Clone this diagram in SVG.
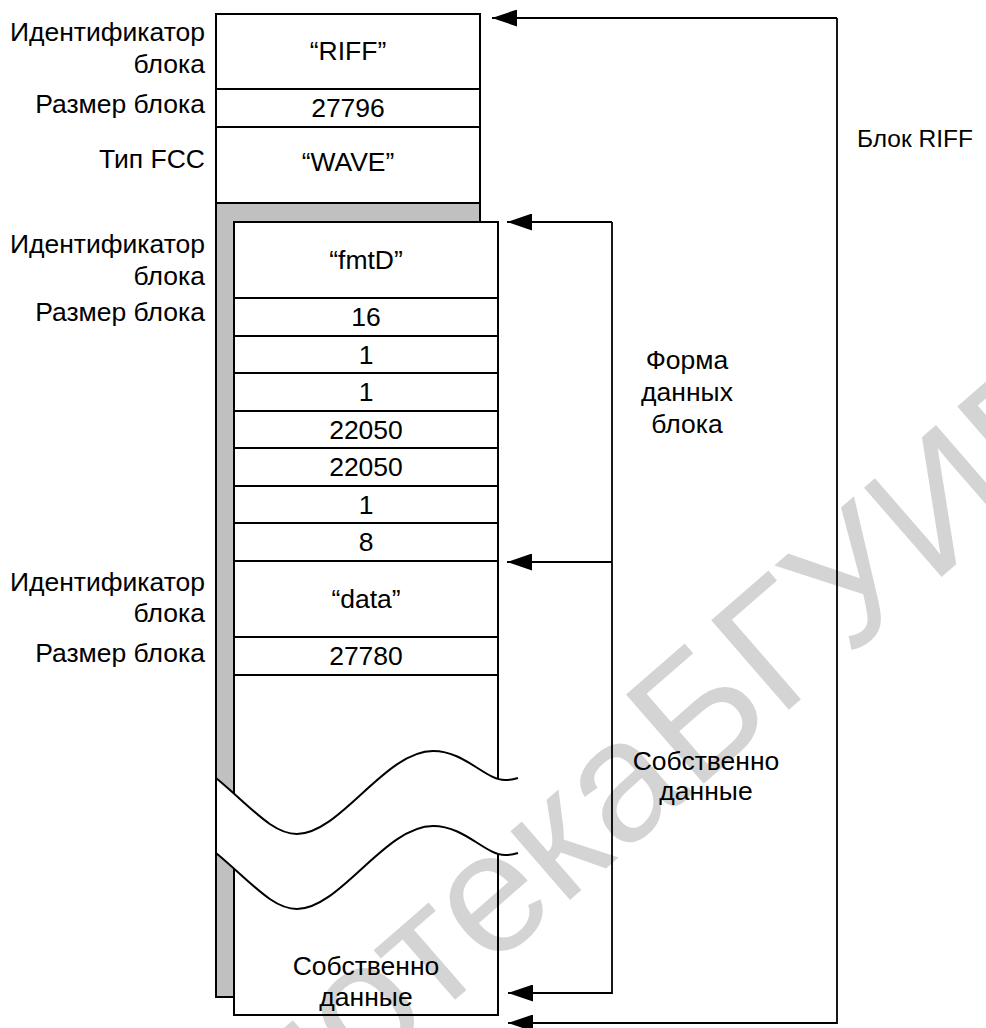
<svg xmlns="http://www.w3.org/2000/svg" width="986" height="1028" viewBox="0 0 986 1028">
<defs>
<style>
text{font-family:"Liberation Sans",Arial,sans-serif;font-size:26.5px;fill:#000}
.l{text-anchor:end}
.c{text-anchor:middle}
.box{fill:#fff;stroke:#000;stroke-width:2}
.div{stroke:#000;stroke-width:2;fill:none}
.con{stroke:#000;stroke-width:1.8;fill:none}
.wave{stroke:#000;stroke-width:2;fill:none}
.wm{font-size:172px;fill:#000;fill-opacity:0.17}
</style>
<marker id="ah" markerWidth="25" markerHeight="17" refX="25" refY="8.5" orient="auto" markerUnits="userSpaceOnUse">
<path d="M0,0 L25,8.5 L0,17 Z" fill="#000"/>
</marker>
</defs>
<rect width="986" height="1028" fill="#fff"/>

<g id="riff-block">
<rect class="box" x="216" y="14" width="264" height="189"/>
<line class="div" x1="216" y1="89" x2="480" y2="89"/>
<line class="div" x1="216" y1="127" x2="480" y2="127"/>
<text class="c" x="348" y="60">“RIFF”</text>
<text class="c" x="348" y="117">27796</text>
<text class="c" x="348" y="171">“WAVE”</text>
</g>

<g id="riff-labels">
<text class="l" x="205" y="41">Идентификатор</text>
<text class="l" x="205" y="73">блока</text>
<text class="l" x="205" y="113">Размер блока</text>
<text class="l" x="205" y="168">Тип FCC</text>
</g>

<g id="shadow-panel">
<rect x="216" y="203" width="264" height="794" fill="#c0c0c0" stroke="#000" stroke-width="2"/>
</g>

<g id="fmt-data-block">
<rect class="box" x="234" y="222" width="264" height="793"/>
<line class="div" x1="234" y1="298" x2="498" y2="298"/>
<line class="div" x1="234" y1="336" x2="498" y2="336"/>
<line class="div" x1="234" y1="373" x2="498" y2="373"/>
<line class="div" x1="234" y1="411" x2="498" y2="411"/>
<line class="div" x1="234" y1="448" x2="498" y2="448"/>
<line class="div" x1="234" y1="486" x2="498" y2="486"/>
<line class="div" x1="234" y1="523" x2="498" y2="523"/>
<line class="div" x1="234" y1="561" x2="498" y2="561"/>
<line class="div" x1="234" y1="637" x2="498" y2="637"/>
<line class="div" x1="234" y1="675" x2="498" y2="675"/>
<text class="c" x="366" y="269">“fmtD”</text>
<text class="c" x="366" y="326">16</text>
<text class="c" x="366" y="364">1</text>
<text class="c" x="366" y="401">1</text>
<text class="c" x="366" y="439">22050</text>
<text class="c" x="366" y="476">22050</text>
<text class="c" x="366" y="514">1</text>
<text class="c" x="366" y="551">8</text>
<text class="c" x="366" y="608">“data”</text>
<text class="c" x="366" y="665">27780</text>
<text class="c" x="366" y="975">Собственно</text>
<text class="c" x="366" y="1006">данные</text>
</g>

<g id="break">
<path d="M217,778 C250,806 272,834 297,834 C340,834 385,751 433,751 C465,751 485,780 505,780 C510,780 515,779 520,778 L520,853 C515,854 510,855 505,855 C485,855 465,826 433,826 C385,826 340,909 297,909 C272,909 250,881 217,853 Z" fill="#fff"/>
<path class="wave" d="M216,778 C250,806 272,834 297,834 C340,834 385,751 433,751 C465,751 485,780 505,780 C510,780 515,779 518,778"/>
<path class="wave" d="M216,853 C250,881 272,909 297,909 C340,909 385,826 433,826 C465,826 485,855 505,855 C510,855 515,854 518,853"/>
<line class="div" x1="216" y1="776" x2="216" y2="855"/>
</g>

<g id="inner-labels">
<text class="l" x="205" y="253">Идентификатор</text>
<text class="l" x="205" y="285">блока</text>
<text class="l" x="205" y="321">Размер блока</text>
<text class="l" x="205" y="591">Идентификатор</text>
<text class="l" x="205" y="622">блока</text>
<text class="l" x="205" y="662">Размер блока</text>
</g>

<g id="connectors">
<path class="con" d="M837,18 L492,18" marker-end="url(#ah)"/>
<path class="con" d="M837,18 L837,1023 L508,1023" marker-end="url(#ah)"/>
<path class="con" d="M612,222 L507,222" marker-end="url(#ah)"/>
<path class="con" d="M612,562 L507,562" marker-end="url(#ah)"/>
<path class="con" d="M612,222 L612,993 L508,993" marker-end="url(#ah)"/>
</g>

<g id="bracket-labels">
<text x="857" y="147" style="font-size:24.5px">Блок RIFF</text>
<text class="c" x="687" y="369">Форма</text>
<text class="c" x="687" y="401">данных</text>
<text class="c" x="687" y="433">блока</text>
<text class="c" x="706" y="770">Собственно</text>
<text class="c" x="706" y="800">данные</text>
</g>

<g id="watermark">
<text class="wm" x="0" y="0" transform="translate(693,793) rotate(-41)">БГУИР</text>
<text class="wm" x="0" y="0" text-anchor="end" transform="translate(693,793) rotate(-41)">Библиотека </text>
</g>
</svg>
